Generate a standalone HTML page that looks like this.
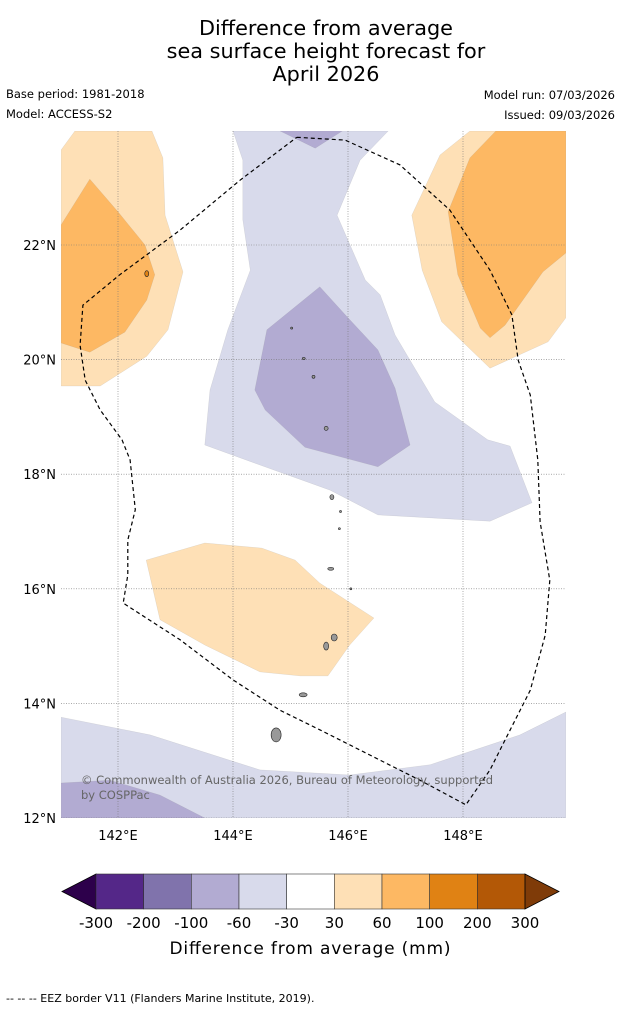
<!DOCTYPE html>
<html><head><meta charset="utf-8"><style>
body{margin:0;background:#fff;font-family:"Liberation Sans","DejaVu Sans",sans-serif;}
svg{display:block}
</style></head><body>
<svg id="c" width="621" height="1011" viewBox="0 0 621 1011">
<g font-family="DejaVu Sans, sans-serif" font-size="20.8" text-anchor="middle" fill="#000">
<text x="326" y="35">Difference from average</text>
<text x="326" y="58">sea surface height forecast for</text>
<text x="326" y="81">April 2026</text>
</g>
<g font-family="DejaVu Sans, sans-serif" font-size="11.5" fill="#000">
<text x="6" y="98">Base period: 1981-2018</text>
<text x="6" y="118">Model: ACCESS-S2</text>
<text x="615" y="99" text-anchor="end">Model run: 07/03/2026</text>
<text x="615" y="119" text-anchor="end">Issued: 09/03/2026</text>
</g>
<defs><clipPath id="mc"><rect x="61" y="131" width="505" height="687"/></clipPath></defs>
<g id="map" clip-path="url(#mc)"></g>
<g id="axes"></g>
<text x="81" y="784" font-size="11.5" fill="#666" font-family="DejaVu Sans, sans-serif" textLength="412">© Commonwealth of Australia 2026, Bureau of Meteorology, supported</text>
<text x="81" y="799" font-size="11.5" fill="#666" font-family="DejaVu Sans, sans-serif">by COSPPac</text>
<g id="cbar"></g>
<text x="310" y="954" font-size="17" text-anchor="middle" font-family="DejaVu Sans, sans-serif" textLength="281">Difference from average (mm)</text>
<text x="6" y="1002" font-size="11" font-family="DejaVu Sans, sans-serif">--  --  -- EEZ border V11 (Flanders Marine Institute, 2019).</text>
</svg>
<script>
const lonTicks=[142,144,146,148];
const latTicks=[12,14,16,18,20,22];
const cbLevels=["-300","-200","-100","-60","-30","30","60","100","200","300"];
const cbColors=["#2d004b","#542788","#8073ac","#b2abd2","#d8daeb","#ffffff","#fee0b6","#fdb863","#e08214","#b35806","#7f3b08"];
const lightOrangeNW=[[141.01,23.66],[141.25,23.99],[142.59,23.99],[142.78,23.52],[142.82,22.52],[143.13,21.53],[142.87,20.52],[142.5,20.06],[141.69,19.54],[141.01,19.54]];
const darkOrangeNW=[[141.01,22.35],[141.51,23.15],[142,22.58],[142.47,22],[142.64,21.48],[142.5,21.04],[142.12,20.48],[141.51,20.13],[141.01,20.29]];
const lightOrangeNE=[[148.12,23.99],[147.6,23.57],[147.11,22.52],[147.29,21.56],[147.63,20.66],[148.47,19.85],[149.48,20.31],[149.79,20.73],[149.79,23.99]];
const darkOrangeNE=[[148.57,23.99],[148.12,23.52],[147.74,22.58],[147.91,21.48],[148.3,20.55],[148.47,20.38],[148.73,20.6],[149.39,21.53],[149.79,21.86],[149.79,23.99]];
const lightPurpleC=[[144,23.99],[144.17,23.48],[144.17,22.44],[144.3,21.56],[143.91,20.52],[143.6,19.47],[143.51,18.51],[144.47,18.16],[145.69,17.72],[146.52,17.29],[148.47,17.18],[149.2,17.5],[148.82,18.49],[148.43,18.6],[147.51,19.26],[146.82,20.43],[146.56,21.13],[146.3,21.39],[145.81,22.52],[146.21,23.48],[146.7,23.99]];
const medPurpleTop=[[144.82,23.99],[145.43,23.69],[145.9,23.99]];
const medPurpleC=[[145.51,21.27],[144.59,20.52],[144.38,19.47],[144.56,19.12],[145.25,18.47],[146.52,18.13],[147.08,18.51],[146.82,19.5],[146.52,20.17],[146,20.73]];
const lightOrangeC=[[142.49,16.5],[143.51,16.8],[144.5,16.71],[145.08,16.5],[145.51,16.1],[146.45,15.49],[146.03,15.02],[145.65,14.48],[145.17,14.48],[144.47,14.55],[143.51,15.02],[142.73,15.46]];
const lightPurpleS=[[141.01,13.76],[142.56,13.45],[144.47,12.84],[146.03,12.75],[147.43,12.93],[148.99,13.45],[149.79,13.85],[149.79,12],[141.01,12]];
const medPurpleS=[[141.01,12.61],[141.86,12.66],[142.73,12.4],[143.51,12],[141.01,12]];
const eez=[[145.11,23.88],[145.95,23.83],[146.9,23.4],[147.77,22.61],[148.47,21.56],[148.85,20.78],[148.96,19.99],[149.17,19.38],[149.3,18.25],[149.34,17.17],[149.51,16.15],[149.43,15.19],[149.17,14.23],[148.73,13.36],[148.47,12.84],[148.05,12.23],[147.25,12.66],[146.38,13.1],[145.51,13.54],[144.82,13.88],[144,14.41],[143.08,15.11],[142.09,15.75],[142.17,16.24],[142.17,16.85],[142.3,17.38],[142.21,18.25],[142.07,18.6],[141.69,19.12],[141.43,19.64],[141.34,20.25],[141.39,20.95],[142.03,21.48],[143.08,22.26],[144.12,23.13],[145.11,23.88]];
const islands=[[144.75,13.45,5,7],[145.22,14.15,4,2],[145.62,15.0,2.5,4],[145.76,15.15,3,3.5],[145.7,16.35,3,1.5],[145.72,17.6,2,2.5],[145.62,18.8,2,2],[145.85,17.05,1,1],[145.4,19.7,1.5,1.5],[145.23,20.02,1.5,1],[145.02,20.55,1,1],[142.5,21.5,2,3],[146.05,16.0,1,1],[145.87,17.35,1,1]];
const NS="http://www.w3.org/2000/svg";
const x=lon=>118+(lon-142)*57.5, y=lat=>245-(lat-22)*57.3;
function mk(t,a,p){const e=document.createElementNS(NS,t);for(const k in a)e.setAttribute(k,a[k]);p.appendChild(e);return e;}
const map=document.getElementById('map');
const pts=a=>a.map(p=>x(p[0]).toFixed(1)+','+y(p[1]).toFixed(1)).join(' ');
[[lightPurpleS,4,'light-purple-south'],[medPurpleS,3,'medium-purple-south'],[lightPurpleC,4,'light-purple-central'],[medPurpleTop,3,'medium-purple-top'],[medPurpleC,3,'medium-purple-central'],[lightOrangeNW,6,'light-orange-nw'],[darkOrangeNW,7,'dark-orange-nw'],[lightOrangeNE,6,'light-orange-ne'],[darkOrangeNE,7,'dark-orange-ne'],[lightOrangeC,6,'light-orange-central']].forEach(([d,ci,n])=>{
 const e=mk('polygon',{points:pts(d),fill:cbColors[ci],stroke:'#888','stroke-width':0.3,'stroke-opacity':0.4},map);
 
 
});
lonTicks.forEach(l=>{const e=mk('line',{x1:x(l),x2:x(l),y1:131,y2:818,stroke:'#777','stroke-width':0.6,'stroke-dasharray':'1,1.5'},map);});
latTicks.forEach(l=>{const e=mk('line',{x1:61,x2:566,y1:y(l),y2:y(l),stroke:'#777','stroke-width':0.6,'stroke-dasharray':'1,1.5'},map);});
islands.forEach(i=>{const e=mk('ellipse',{cx:x(i[0]),cy:y(i[1]),rx:i[2],ry:i[3],fill:i[0]<143?'#e08214':'#999',stroke:'#222','stroke-width':0.6},map);});
const ez=mk('polyline',{points:pts(eez),fill:'none',stroke:'#000','stroke-width':1.2,'stroke-dasharray':'4,3'},map);


const ax=document.getElementById('axes');
lonTicks.forEach(l=>{const t=mk('text',{x:x(l),y:840,'font-size':13,'text-anchor':'middle','font-family':'DejaVu Sans, sans-serif'},ax);t.textContent=l+'°E';});
latTicks.forEach(l=>{const t=mk('text',{x:56,y:y(l)+5,'font-size':13,'text-anchor':'end','font-family':'DejaVu Sans, sans-serif'},ax);t.textContent=l+'°N';});
const cb=document.getElementById('cbar');
const cx0=96,cw=(525-96)/9,cy0=874,ch=35;
const lt=mk('polygon',{points:`62,${cy0+ch/2} ${cx0},${cy0} ${cx0},${cy0+ch}`,fill:cbColors[0],stroke:'#000','stroke-width':0.8},cb);

for(let i=0;i<9;i++){const r=mk('rect',{x:cx0+i*cw,y:cy0,width:cw,height:ch,fill:cbColors[i+1],stroke:'#333','stroke-width':0.6},cb);}
const rt=mk('polygon',{points:`559,${cy0+ch/2} 525,${cy0} 525,${cy0+ch}`,fill:cbColors[10],stroke:'#000','stroke-width':0.8},cb);

cbLevels.forEach((v,i)=>{const t=mk('text',{x:cx0+i*cw,y:928,'font-size':15,'text-anchor':'middle','font-family':'DejaVu Sans, sans-serif'},cb);t.textContent=v;});
</script>
</body></html>
